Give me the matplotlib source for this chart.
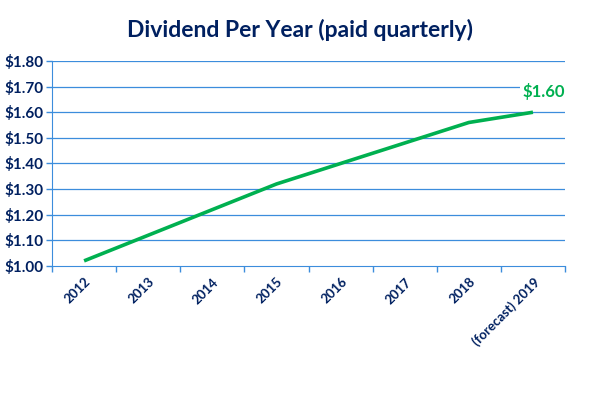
import matplotlib
matplotlib.use("Agg")
import matplotlib.pyplot as plt

years = ["2012", "2013", "2014", "2015", "2016", "2017", "2018", "(forecast) 2019"]
dividend = [1.02, 1.12, 1.22, 1.32, 1.40, 1.48, 1.56, 1.60]
y_ticks = [1.00, 1.10, 1.20, 1.30, 1.40, 1.50, 1.60, 1.70, 1.80]

navy = "#002060"
grid_blue = "#3C8DDC"
green = "#00B050"

plt.rcParams["font.family"] = ["Lato", "DejaVu Sans"]

fig = plt.figure(figsize=(6, 3.95), dpi=100)
ax = fig.add_axes([0.0867, 0.3266, 0.855, 0.519])

x = range(len(years))
ax.plot(x, dividend, color=green, linewidth=2.6, solid_capstyle="butt", zorder=3)

ax.set_xlim(-0.5, len(years) - 0.5)
ax.set_ylim(1.0, 1.8)
ax.set_yticks(y_ticks)
ax.set_yticklabels(["$%.2f" % v for v in y_ticks], color=navy, fontsize=11, fontweight="bold")
for v in y_ticks[1:]:
    ax.axhline(v, color=grid_blue, linewidth=0.9, zorder=1)

ax.set_xticks([i - 0.5 for i in range(len(years) + 1)])
ax.set_xticklabels([])
ax.set_xticks(list(x), minor=True)
ax.set_xticklabels(years, minor=True, rotation=45, ha="right", va="top",
                   rotation_mode="anchor", color=navy, fontsize=9.5, fontweight="bold")
ax.tick_params(axis="x", which="minor", length=0, pad=7)
ax.tick_params(axis="x", which="major", length=4, color=grid_blue, width=1)
ax.tick_params(axis="y", length=4, color=grid_blue, width=1, pad=2)

for s in ["top", "right"]:
    ax.spines[s].set_visible(False)
ax.spines["left"].set_color(grid_blue)
ax.spines["bottom"].set_color(grid_blue)

ax.annotate("$%.2f" % dividend[-1], (len(years) - 1, dividend[-1]), xytext=(8, 15),
            textcoords="offset points", ha="center", va="center", color=green,
            fontsize=12, fontweight="bold",
            bbox=dict(facecolor="white", edgecolor="none", pad=2), zorder=4)

fig.text(0.5, 0.925, "Dividend Per Year (paid quarterly)", ha="center", va="center",
         color=navy, fontsize=16.5, fontweight="bold")

fig.savefig("out.png", dpi=100)
